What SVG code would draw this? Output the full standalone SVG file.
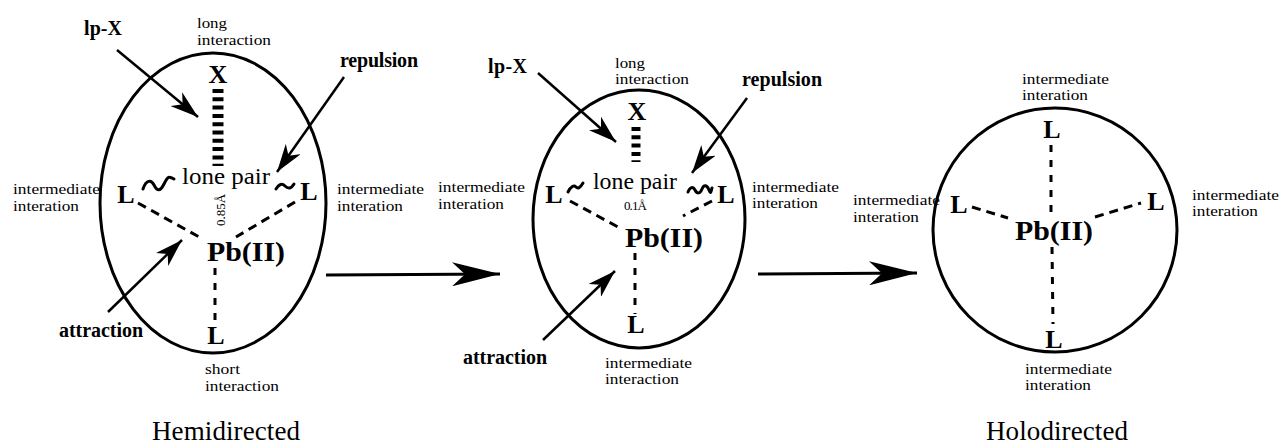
<svg xmlns="http://www.w3.org/2000/svg" width="1281" height="445" viewBox="0 0 1281 445">
<style>
.ring{fill:none;stroke:#000;stroke-width:3}
text{font-family:"Liberation Serif","Times New Roman",serif;fill:#000}
.sm{font-size:14.5px}
.bl{font-size:20px;font-weight:bold}
.atom{font-size:26px;font-weight:bold;text-anchor:middle}
.pb{font-size:28px;font-weight:bold}
.lp{font-size:24px}
.cap{font-size:27px}
.tiny{font-size:13px}
.dash{fill:none;stroke:#000;stroke-width:3;stroke-dasharray:9 6}
.vdash{fill:none;stroke:#000;stroke-width:3;stroke-dasharray:7 8}
.wave{fill:none;stroke:#000;stroke-width:3;stroke-linecap:round}
.hatch{fill:none;stroke:#000;stroke-dasharray:4 4.3}
.ptr{fill:none;stroke:#000;stroke-width:2.5;marker-end:url(#ah)}
.big{fill:none;stroke:#000;stroke-width:3;marker-end:url(#bh)}
</style>
<defs>
<marker id="ah" markerUnits="userSpaceOnUse" viewBox="0 0 28 18" markerWidth="28" markerHeight="18" refX="28" refY="9" orient="auto">
<path d="M0,0 L28,9 L0,18 L8,9 z" fill="#000"/>
</marker>
<marker id="bh" markerUnits="userSpaceOnUse" viewBox="0 0 48 24" markerWidth="48" markerHeight="24" refX="48" refY="12" orient="auto">
<path d="M0,0 L48,12 L0,24 L13,12 z" fill="#000"/>
</marker>
</defs>

<g id="hemidirected">
<ellipse class="ring" cx="213" cy="203" rx="113" ry="150"/>
<text class="bl" x="84" y="35" textLength="38">lp-X</text>
<text class="sm" x="197" y="28" textLength="30" lengthAdjust="spacingAndGlyphs">long</text>
<text class="sm" x="197" y="45" textLength="74" lengthAdjust="spacingAndGlyphs">interaction</text>
<text class="bl" x="340" y="67" textLength="78">repulsion</text>
<text class="atom" x="218" y="83">X</text>
<line class="hatch" x1="218" y1="89" x2="218" y2="166" stroke-width="11"/>
<text class="sm" x="13" y="194" textLength="87" lengthAdjust="spacingAndGlyphs">intermediate</text>
<text class="sm" x="13" y="210.5" textLength="66" lengthAdjust="spacingAndGlyphs">interation</text>
<text class="atom" x="126" y="203">L</text>
<path class="wave" d="M143,189 C146,180 151,179 154,185 S160,192 164,184 S169,176 174,179"/>
<text class="lp" x="182" y="184" textLength="88" lengthAdjust="spacingAndGlyphs">lone pair</text>
<text class="tiny" transform="translate(225,210) rotate(-90)" text-anchor="middle">0.85Å</text>
<path class="wave" d="M276,189 C279,184 282,183 285,186 S291,189 294,184"/>
<text class="atom" x="309" y="200">L</text>
<text class="sm" x="337" y="194" textLength="87" lengthAdjust="spacingAndGlyphs">intermediate</text>
<text class="sm" x="337" y="210.5" textLength="66" lengthAdjust="spacingAndGlyphs">interation</text>
<line class="dash" x1="138" y1="203" x2="201" y2="238"/>
<line class="dash" x1="295" y1="202" x2="236" y2="237"/>
<text class="pb" x="207" y="261" textLength="78" lengthAdjust="spacingAndGlyphs">Pb(II)</text>
<line class="vdash" x1="215" y1="268" x2="215" y2="322"/>
<text class="atom" x="216" y="344">L</text>
<text class="sm" x="205" y="374" textLength="35" lengthAdjust="spacingAndGlyphs">short</text>
<text class="sm" x="205" y="391" textLength="74" lengthAdjust="spacingAndGlyphs">interaction</text>
<text class="bl" x="59" y="337" textLength="84">attraction</text>
<line class="ptr" x1="117" y1="50" x2="198" y2="117"/>
<line class="ptr" x1="344" y1="77" x2="277" y2="172"/>
<line class="ptr" x1="108" y1="312" x2="182" y2="240"/>
<text class="cap" x="152" y="440" textLength="148">Hemidirected</text>
</g>

<g id="intermediate">
<ellipse class="ring" cx="639" cy="219" rx="106" ry="129"/>
<text class="bl" x="488" y="73" textLength="39">lp-X</text>
<text class="sm" x="615" y="67.5" textLength="30" lengthAdjust="spacingAndGlyphs">long</text>
<text class="sm" x="615" y="84" textLength="74" lengthAdjust="spacingAndGlyphs">interaction</text>
<text class="bl" x="742" y="86" textLength="80">repulsion</text>
<text class="atom" x="637" y="120">X</text>
<line class="hatch" x1="636" y1="127" x2="636" y2="162" stroke-width="9"/>
<text class="sm" x="438" y="192" textLength="87" lengthAdjust="spacingAndGlyphs">intermediate</text>
<text class="sm" x="438" y="208.5" textLength="66" lengthAdjust="spacingAndGlyphs">interation</text>
<text class="atom" x="554" y="203">L</text>
<path class="wave" d="M568,192 C571,186 574,185 576,187 S580,188 583,183"/>
<text class="lp" x="593" y="189" textLength="84" lengthAdjust="spacingAndGlyphs">lone pair</text>
<text class="tiny" x="624" y="210" font-size="12" textLength="23">0.1Å</text>
<path class="wave" d="M688,192 C690,187 693,186 695,190 S700,194 702,189 S707,185 709,190 S711,191 712,188"/>
<text class="atom" x="726" y="203">L</text>
<text class="sm" x="752" y="191.5" textLength="87" lengthAdjust="spacingAndGlyphs">intermediate</text>
<text class="sm" x="752" y="208" textLength="66" lengthAdjust="spacingAndGlyphs">interation</text>
<line class="dash" x1="570" y1="201" x2="618" y2="227"/>
<line class="dash" x1="712" y1="201" x2="683" y2="216"/>
<text class="pb" x="625" y="247" textLength="78" lengthAdjust="spacingAndGlyphs">Pb(II)</text>
<line class="vdash" x1="635" y1="253" x2="635" y2="314"/>
<text class="atom" x="636" y="333">L</text>
<text class="sm" x="605" y="367.5" textLength="87" lengthAdjust="spacingAndGlyphs">intermediate</text>
<text class="sm" x="605" y="384" textLength="74" lengthAdjust="spacingAndGlyphs">interaction</text>
<text class="bl" x="463" y="364" textLength="84">attraction</text>
<line class="ptr" x1="538" y1="73" x2="616" y2="142"/>
<line class="ptr" x1="747" y1="98" x2="692" y2="173"/>
<line class="ptr" x1="543" y1="340" x2="615" y2="271"/>
</g>

<g id="holodirected">
<ellipse class="ring" cx="1055" cy="230" rx="122" ry="122"/>
<text class="sm" x="1022" y="83.5" textLength="87" lengthAdjust="spacingAndGlyphs">intermediate</text>
<text class="sm" x="1022" y="100" textLength="66" lengthAdjust="spacingAndGlyphs">interation</text>
<text class="atom" x="1052" y="138">L</text>
<line class="vdash" x1="1051" y1="145" x2="1051" y2="214"/>
<text class="sm" x="853" y="205" textLength="87" lengthAdjust="spacingAndGlyphs">intermediate</text>
<text class="sm" x="853" y="221.5" textLength="66" lengthAdjust="spacingAndGlyphs">interation</text>
<text class="atom" x="959" y="213">L</text>
<line class="dash" x1="972" y1="207" x2="1008" y2="218"/>
<text class="pb" x="1015" y="240" textLength="78" lengthAdjust="spacingAndGlyphs">Pb(II)</text>
<line class="dash" x1="1095" y1="217" x2="1141" y2="203"/>
<text class="atom" x="1156" y="210">L</text>
<text class="sm" x="1192" y="199.5" textLength="87" lengthAdjust="spacingAndGlyphs">intermediate</text>
<text class="sm" x="1192" y="216" textLength="66" lengthAdjust="spacingAndGlyphs">interation</text>
<line class="vdash" x1="1052" y1="247" x2="1053" y2="324"/>
<text class="atom" x="1054" y="348">L</text>
<text class="sm" x="1025" y="373.5" textLength="87" lengthAdjust="spacingAndGlyphs">intermediate</text>
<text class="sm" x="1025" y="390" textLength="66" lengthAdjust="spacingAndGlyphs">interation</text>
<text class="cap" x="986" y="440" textLength="142">Holodirected</text>
</g>

<g id="connectors">
<line class="big" x1="326" y1="275" x2="500" y2="274"/>
<line class="big" x1="758" y1="274" x2="917" y2="273"/>
</g>
</svg>
